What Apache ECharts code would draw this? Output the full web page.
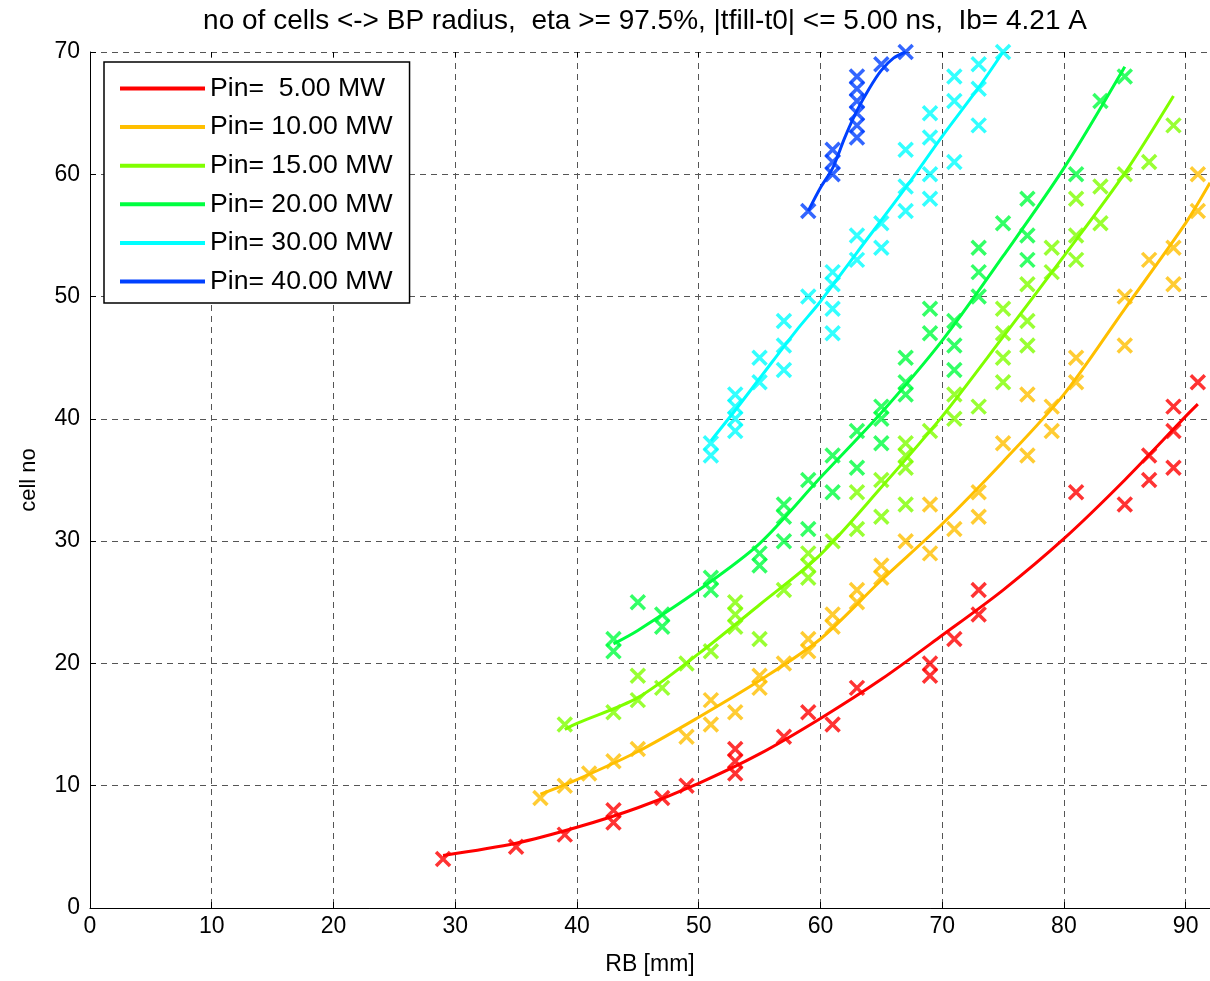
<!DOCTYPE html>
<html>
<head>
<meta charset="utf-8">
<script src="https://cdn.jsdelivr.net/npm/echarts@6/dist/echarts.min.js"></script>
<style>
html,body{margin:0;padding:0;background:#fff;}
#chart{width:1210px;height:981px;}
</style>
</head>
<body>
<div id="chart"></div>
<script>
// ---- data ----
const seriesNames = ['Pin=  5.00 MW', 'Pin= 10.00 MW', 'Pin= 15.00 MW', 'Pin= 20.00 MW', 'Pin= 30.00 MW', 'Pin= 40.00 MW'];
const seriesColors = ['#ff0000', '#ffbf00', '#80ff00', '#00ff40', '#00ffff', '#0040ff'];

const pts5 = [[29,4],[35,5],[39,6],[43,7],[43,8],[47,9],[49,10],[53,11],[53,12],[53,13],[57,14],[59,16],[61,15],[63,18],[69,19],[69,20],[71,22],[73,24],[73,26],[81,34],[85,33],[87,35],[87,37],[89,36],[89,39],[89,41],[91,43]];
const pts10 = [[37,9],[39,10],[41,11],[43,12],[45,13],[49,14],[51,15],[51,17],[53,16],[55,18],[55,19],[57,20],[59,21],[59,22],[61,23],[61,24],[63,25],[63,26],[65,27],[65,28],[67,30],[69,29],[69,33],[71,31],[73,32],[73,34],[75,38],[77,37],[77,42],[79,39],[79,41],[81,43],[81,45],[85,46],[85,50],[87,53],[89,51],[89,54],[91,57],[91,60]];
const pts15 = [[39,15],[43,16],[45,17],[45,19],[47,18],[49,20],[51,21],[53,23],[53,24],[53,25],[55,22],[57,26],[59,27],[59,28],[59,29],[61,30],[63,31],[63,34],[65,32],[65,35],[67,33],[67,36],[67,37],[67,38],[69,39],[71,40],[71,42],[73,41],[75,43],[75,45],[75,47],[75,49],[77,46],[77,48],[77,51],[79,52],[79,54],[81,53],[81,55],[81,58],[83,56],[83,59],[85,60],[87,61],[89,64]];
const pts20 = [[43,21],[43,22],[45,25],[47,23],[47,24],[51,26],[51,27],[55,28],[55,29],[57,30],[57,32],[57,33],[59,31],[59,35],[61,34],[61,37],[63,36],[63,39],[65,38],[65,40],[65,41],[67,42],[67,43],[67,45],[69,47],[69,49],[71,44],[71,46],[71,48],[73,50],[73,52],[73,54],[75,56],[77,53],[77,55],[77,58],[81,60],[83,66],[85,68]];
const pts30 = [[51,37],[51,38],[53,39],[53,40],[53,41],[53,42],[55,43],[55,45],[57,44],[57,46],[57,48],[59,50],[61,47],[61,49],[61,51],[61,52],[63,53],[63,55],[65,54],[65,56],[67,57],[67,59],[67,62],[69,58],[69,60],[69,63],[69,65],[71,61],[71,66],[71,68],[73,64],[73,67],[73,69],[75,70]];
const pts40 = [[59,57],[61,60],[61,61],[61,62],[63,63],[63,64],[63,65],[63,66],[63,67],[63,68],[65,69],[67,70]];

const fit5 = [[29,4.3],[35,5.3],[40,6.6],[45,8.2],[50,10.2],[55,12.6],[60,15.5],[65,18.7],[70,22.3],[75,26.0],[80,30.2],[85,35.0],[90,40.2],[91,41.2]];
const fit10 = [[37,9.3],[40,10.5],[45,12.8],[50,15.6],[55,18.6],[60,22],[65,26.8],[70,31.4],[75,36.5],[80,42],[85,49],[90,56],[92,59.3]];
const fit15 = [[39,14.6],[40,15.1],[45,17.2],[50,20.8],[55,24.8],[60,28.9],[65,34.4],[70,40.2],[75,46.7],[80,53.3],[85,60.1],[89,66.4]];
const fit20 = [[43,21.6],[45,22.7],[50,26],[55,29.8],[60,35.2],[65,40.5],[70,46.4],[75,53.3],[80,60.5],[85,68.8]];
const fit30 = [[51,38.2],[53,40.7],[55,43.3],[58,47.2],[60,49.6],[63,53.6],[67,58.9],[70,63.1],[73,67.1],[75,70]];
const fit40 = [[59,57],[60,58.9],[61,60.5],[62,63],[63,65.2],[64,67],[65,68.5],[66,69.5],[67,70]];

const titleText = 'no of cells <-> BP radius,  eta >= 97.5%, |tfill-t0| <= 5.00 ns,  Ib= 4.21 A';
const xName = 'RB [mm]';
const yName = 'cell no';

const allPts = [pts5, pts10, pts15, pts20, pts30, pts40];
const allFits = [fit5, fit10, fit15, fit20, fit30, fit40];

// ---- chart ----
const FONT = '"Liberation Sans", Arial, sans-serif';
const crossPath = 'path://M0,0L10,10M10,0L0,10';
const series = [];
for (let i = 0; i < seriesNames.length; i++) {
  series.push({
    name: 'pts' + i,
    type: 'scatter',
    data: allPts[i],
    symbol: crossPath,
    symbolSize: 14,
    itemStyle: { color: 'rgba(0,0,0,0)', borderColor: seriesColors[i], borderWidth: 3.5 },
    z: 2 + i * 2,
    silent: true
  });
  series.push({
    name: seriesNames[i],
    type: 'line',
    data: allFits[i],
    smooth: 0.3,
    showSymbol: false,
    symbol: 'none',
    lineStyle: { color: seriesColors[i], width: 3 },
    itemStyle: { color: seriesColors[i] },
    z: 3 + i * 2,
    silent: true
  });
}

const chart = echarts.init(document.getElementById('chart'), null, { renderer: 'canvas' });
chart.setOption({
  animation: false,
  backgroundColor: '#ffffff',
  title: {
    text: titleText,
    left: 640,
    textAlign: 'center',
    top: 2,
    textStyle: { fontFamily: FONT, fontSize: 28, fontWeight: 'normal', color: '#000' }
  },
  grid: { left: 90, top: 52, right: 0, bottom: 69, containLabel: false },
  legend: {
    data: seriesNames,
    orient: 'vertical',
    left: 104,
    top: 62,
    padding: [13, 17, 8, 16],
    itemWidth: 85,
    itemHeight: 4,
    itemGap: 11.6,
    icon: 'rect',
    borderColor: '#000',
    borderWidth: 1.5,
    backgroundColor: '#fff',
    textStyle: { fontFamily: FONT, fontSize: 26.6, lineHeight: 26, color: '#000' },
    selectedMode: false,
    z: 20
  },
  xAxis: [{
    type: 'value', min: 0, max: 92, interval: 10,
    name: xName, nameLocation: 'middle', nameGap: 45,
    nameTextStyle: { fontFamily: FONT, fontSize: 23, color: '#000' },
    axisLine: { show: true, lineStyle: { color: '#000', width: 1 } },
    axisTick: { show: true, inside: true, length: 6, lineStyle: { color: '#000' } },
    axisLabel: { fontFamily: FONT, fontSize: 23, color: '#000', margin: 7, showMaxLabel: false },
    splitLine: { show: true, lineStyle: { color: '#555', type: [6, 5], width: 1 } }
  }, {
    type: 'value', min: 0, max: 92, interval: 10, position: 'top',
    axisLine: { show: false },
    axisTick: { show: true, inside: true, length: 5, lineStyle: { color: '#000' } },
    axisLabel: { show: false },
    splitLine: { show: false }
  }],
  yAxis: {
    type: 'value', min: 0, max: 70, interval: 10,
    name: yName, nameLocation: 'middle', nameGap: 50, nameRotate: 90,
    nameTextStyle: { fontFamily: FONT, fontSize: 22, color: '#000' },
    axisLine: { show: true, lineStyle: { color: '#000', width: 1 } },
    axisTick: { show: true, inside: true, length: 6, lineStyle: { color: '#000' } },
    axisLabel: { fontFamily: FONT, fontSize: 23, color: '#000', margin: 10 },
    splitLine: { show: true, lineStyle: { color: '#555', type: [6, 5], width: 1 } }
  },
  series: series
});
</script>
</body>
</html>
